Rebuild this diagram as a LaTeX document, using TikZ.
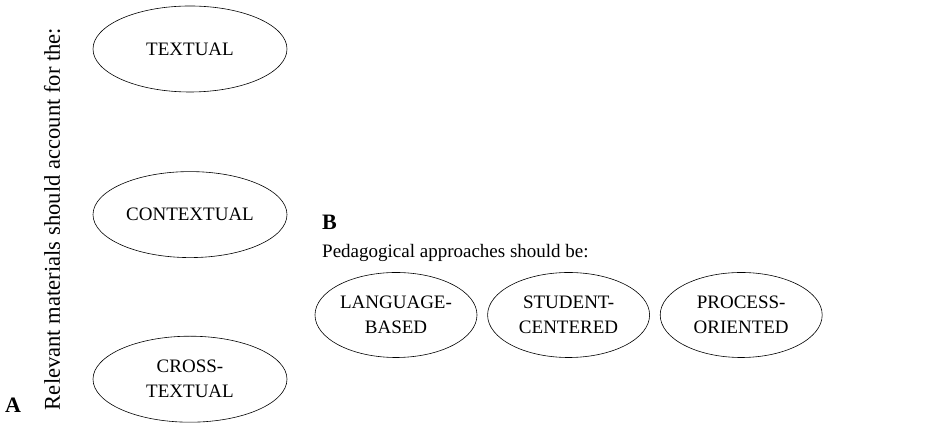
\documentclass[tikz,border=0pt]{standalone}
\usepackage{fontspec}
\setmainfont{Liberation Serif}
\usetikzlibrary{shapes.geometric, positioning}

\begin{document}
\begin{tikzpicture}[x=1pt,y=1pt,node distance=79pt]
 \tikzstyle{matbox}=[ellipse,draw=black,semithick,inner sep=0pt,
   minimum width=194pt,minimum height=86pt,align=center,
   font=\fontsize{19}{25}\selectfont]
 \tikzstyle{pedbox}=[ellipse,draw=black,semithick,inner sep=0pt,
   minimum width=162pt,minimum height=85pt,align=center,
   font=\fontsize{19}{25}\selectfont]
 \useasboundingbox (0,0) rectangle (932,425);
 % A: materials
 \node (textual) [matbox] at (190,376) {TEXTUAL};
 \node (contextual) [matbox,below=of textual] {CONTEXTUAL};
 \node (crosstextual) [matbox,below=78pt of contextual] {CROSS-\\TEXTUAL};
 \node (matlabel) [rotate=90,inner sep=0pt,font=\fontsize{22.6}{24}\selectfont]
   at (52,206) {Relevant materials should account for the:};
 \node (panelA) [anchor=base west,inner sep=0pt,font=\fontsize{22}{24}\selectfont\bfseries]
   at (5,12) {A};
 % B: approaches
 \node (panelB) [anchor=base west,inner sep=0pt,font=\fontsize{22}{24}\selectfont\bfseries]
   at (322,195) {B};
 \node (pedlabel) [anchor=base west,inner sep=0pt,font=\fontsize{19}{21}\selectfont]
   at (322,167) {Pedagogical approaches should be:};
 \node (language) [pedbox] at (396,110) {LANGUAGE-\\BASED};
 \node (student) [pedbox,right=10pt of language] {STUDENT-\\CENTERED};
 \node (process) [pedbox,right=10pt of student] {PROCESS-\\ORIENTED};
\end{tikzpicture}
\end{document}
